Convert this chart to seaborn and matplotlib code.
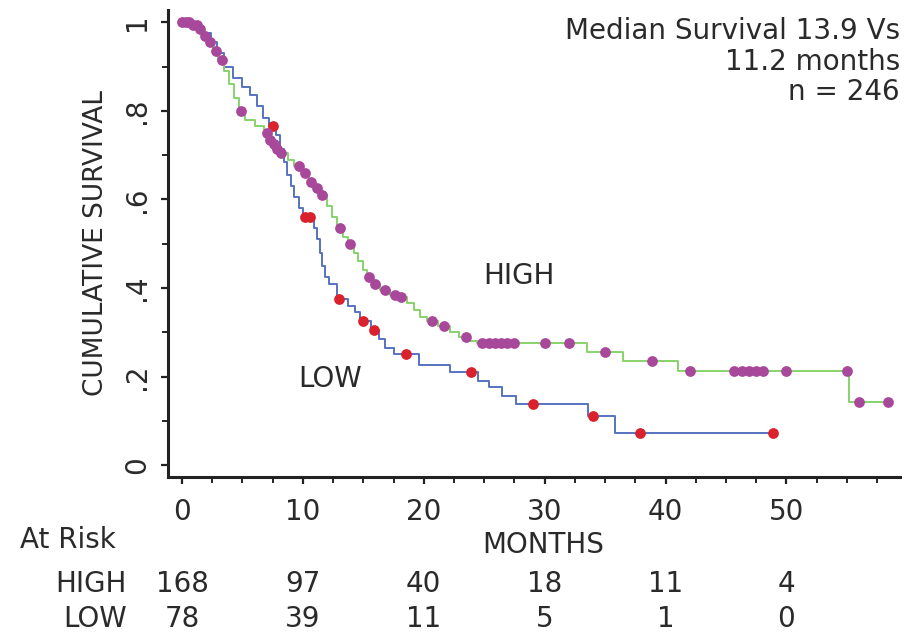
import numpy as np
import matplotlib
matplotlib.use("Agg")
import matplotlib.pyplot as plt
import seaborn as sns
from matplotlib.ticker import MultipleLocator

# -------------------------------------------------
# Data
# -------------------------------------------------
# HIGH group: step times (months) and survival after each step
high_t = [0, 0.8, 1.4, 1.8, 2.2, 2.6, 3.0, 3.5, 3.9, 4.3, 4.7, 5.2, 6.0, 6.8, 7.2,
          7.5, 7.8, 8.1, 8.8, 9.3, 9.9, 10.5, 11.0, 11.4, 12.0, 12.4, 12.8, 13.3,
          13.7, 14.2, 14.6, 15.0, 15.3, 15.8, 16.4, 17.2, 17.9, 18.6, 19.2, 19.7,
          20.3, 21.2, 22.2, 22.9, 23.8, 24.4, 33.5, 36.5, 41.0, 55.2, 58.4]
high_s = [1.0, 0.995, 0.985, 0.97, 0.955, 0.935, 0.915, 0.89, 0.86, 0.83, 0.80,
          0.78, 0.765, 0.75, 0.735, 0.725, 0.715, 0.705, 0.69, 0.675, 0.66, 0.64,
          0.625, 0.61, 0.585, 0.56, 0.535, 0.515, 0.50, 0.48, 0.46, 0.44, 0.425,
          0.41, 0.395, 0.385, 0.38, 0.365, 0.35, 0.335, 0.325, 0.315, 0.30, 0.29,
          0.28, 0.275, 0.255, 0.235, 0.213, 0.143, 0.143]
# HIGH censored observations (months)
high_cens = [0.0, 0.3, 0.6, 0.9, 1.2, 1.5, 1.9, 2.3, 2.8, 3.3, 4.9, 7.0, 7.3, 7.6,
             7.9, 8.2, 9.7, 10.2, 10.7, 11.2, 11.6, 13.1, 13.9, 15.5, 16.0, 16.8,
             17.6, 18.1, 20.7, 21.7, 23.5, 24.8, 25.4, 25.9, 26.4, 26.9, 27.5, 30.0,
             32.0, 35.0, 38.9, 42.0, 45.7, 46.3, 46.9, 47.5, 48.1, 50.0, 55.0, 56.0,
             58.4]

# LOW group
low_t = [0, 1.0, 1.8, 2.4, 2.9, 3.5, 4.2, 5.0, 5.6, 6.2, 6.7, 7.2, 7.8, 8.1, 8.4,
         8.7, 9.0, 9.3, 9.7, 10.0, 10.9, 11.2, 11.4, 11.6, 11.8, 12.2, 12.8, 13.7,
         14.3, 14.7, 15.6, 16.3, 16.8, 17.5, 19.6, 22.2, 24.5, 25.4, 26.5, 27.6,
         33.6, 35.8, 48.9]
low_s = [1.0, 0.99, 0.975, 0.955, 0.93, 0.9, 0.875, 0.855, 0.835, 0.81, 0.785,
         0.765, 0.745, 0.715, 0.685, 0.655, 0.63, 0.605, 0.58, 0.56, 0.535, 0.51,
         0.48, 0.45, 0.425, 0.41, 0.375, 0.36, 0.345, 0.325, 0.305, 0.285, 0.265,
         0.25, 0.225, 0.21, 0.19, 0.176, 0.156, 0.137, 0.11, 0.072, 0.072]
low_cens = [7.5, 10.2, 10.6, 13.0, 15.0, 15.9, 18.5, 23.9, 29.0, 34.0, 37.9, 48.9]

# numbers at risk
risk_months = [0, 10, 20, 30, 40, 50]
risk_high = [168, 97, 40, 18, 11, 4]
risk_low = [78, 39, 11, 5, 1, 0]

yticks = [0, 0.2, 0.4, 0.6, 0.8, 1.0]
ytick_labels = ["0", ".2", ".4", ".6", ".8", "1"]
xticks = [0, 10, 20, 30, 40, 50]

info_lines = ["Median Survival 13.9 Vs", "11.2 months", "n = 246"]


def surv_at(times, surv, t):
    # value of the step curve at the censoring times
    idx = np.searchsorted(times, t, side="right") - 1
    return np.asarray(surv)[idx]


# -------------------------------------------------
# Style
# -------------------------------------------------
sns.set_theme(style="ticks")
plt.rcParams["font.family"] = ["DejaVu Sans"]
text_col = "#2a2a2a"
green = "#86d36a"
blue = "#5673c2"
magenta = "#a8489a"
red = "#d9222e"
fs = 20

fig = plt.figure(figsize=(9.07, 6.35), dpi=100)
ax = fig.add_axes([0.1852, 0.2488, 0.8071, 0.7355])

# -------------------------------------------------
# Curves
# -------------------------------------------------
sns.lineplot(x=low_t, y=low_s, drawstyle="steps-post", color=blue, lw=1.4,
             estimator=None, ax=ax)
sns.lineplot(x=high_t, y=high_s, drawstyle="steps-post", color=green, lw=1.4,
             estimator=None, ax=ax)

sns.scatterplot(x=low_cens, y=surv_at(low_t, low_s, low_cens), color=red,
                s=60, linewidth=0, ax=ax, zorder=4)
sns.scatterplot(x=high_cens, y=surv_at(high_t, high_s, high_cens), color=magenta,
                s=60, linewidth=0, ax=ax, zorder=4)

# -------------------------------------------------
# Axes
# -------------------------------------------------
ax.set_xlim(-1.16, 59.4)
ax.set_ylim(-0.027, 1.028)
sns.despine(ax=ax)
for side in ["left", "bottom"]:
    ax.spines[side].set_linewidth(2.2)
    ax.spines[side].set_color("#222222")

ax.set_xticks(xticks)
ax.set_xticklabels([str(v) for v in xticks], fontsize=fs, color=text_col)
ax.xaxis.set_minor_locator(MultipleLocator(2.5))
ax.set_yticks(yticks)
ax.set_yticklabels(ytick_labels, fontsize=fs, color=text_col, rotation=90,
                   va="center")
ax.yaxis.set_minor_locator(MultipleLocator(0.1))
ax.tick_params(axis="both", which="major", length=5, width=1.6, color="#222222")
ax.tick_params(axis="both", which="minor", length=4, width=1.4, color="#222222")
ax.tick_params(axis="x", which="major", pad=10)
ax.tick_params(axis="y", which="major", pad=7)

ax.set_ylabel("CUMULATIVE SURVIVAL", fontsize=19, color=text_col, labelpad=10)
ax.set_xlabel("MONTHS", fontsize=fs, color=text_col)
ax.xaxis.set_label_coords(0.512, -0.146)
ax.xaxis.label.set_va("center")

# group labels inside the plot
ax.text(27.9, 0.427, "HIGH", fontsize=fs, color=text_col, ha="center", va="center")
ax.text(12.25, 0.194, "LOW", fontsize=fs, color=text_col, ha="center", va="center")

# summary text, top right
for yy, line in zip([0.955, 0.889, 0.824], info_lines):
    ax.text(1.0, yy, line, transform=ax.transAxes, fontsize=fs, color=text_col,
            ha="right", va="center")

# -------------------------------------------------
# At risk table
# -------------------------------------------------
xt = ax.get_xaxis_transform()
fig.text(20 / 907, 1 - 540 / 635, "At Risk", fontsize=fs, color=text_col,
         ha="left", va="center")
fig.text(127 / 907, 1 - 584 / 635, "HIGH", fontsize=fs, color=text_col,
         ha="right", va="center")
fig.text(127 / 907, 1 - 619 / 635, "LOW", fontsize=fs, color=text_col,
         ha="right", va="center")
for m, h, l in zip(risk_months, risk_high, risk_low):
    ax.text(m, -0.229, str(h), transform=xt, fontsize=fs, color=text_col,
            ha="center", va="center", clip_on=False)
    ax.text(m, -0.304, str(l), transform=xt, fontsize=fs, color=text_col,
            ha="center", va="center", clip_on=False)

fig.savefig("out.png", dpi=100)
